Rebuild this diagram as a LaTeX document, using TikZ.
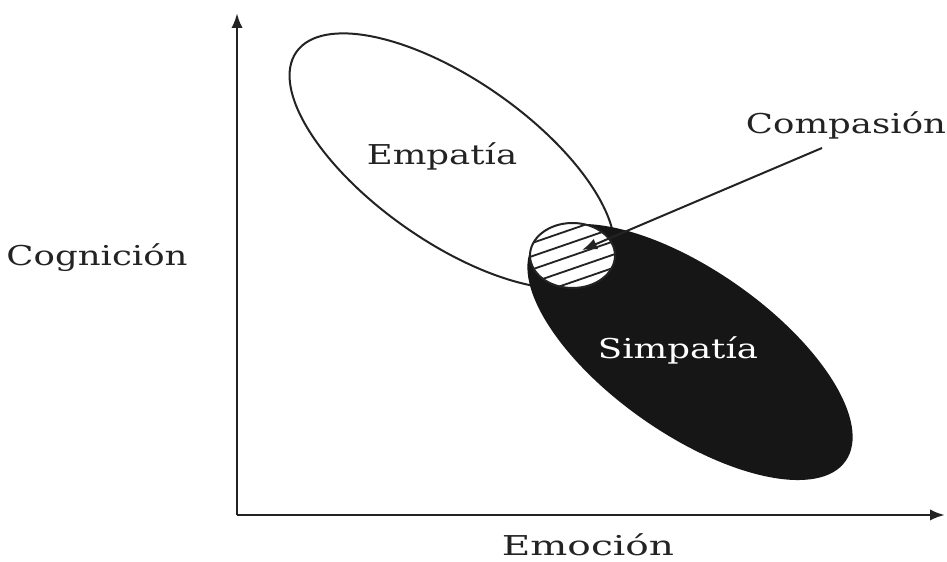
\documentclass[tikz,border=0pt]{standalone}
\usepackage{fontspec}
\setmainfont{DejaVu Serif}
\usetikzlibrary{arrows.meta,calc}
\definecolor{inkgray}{RGB}{35,35,35}
\definecolor{darkfill}{RGB}{22,22,22}

\begin{document}
\begin{tikzpicture}[x=0.3pt,y=0.3pt,>={Latex[length=4.5pt,width=3.4pt]},
    every node/.style={font=\fontsize{8.2}{10}\selectfont,xscale=1.3,text=inkgray,inner sep=0pt},
    outline/.style={draw=inkgray,line width=0.6pt},
    hatch/.style={draw=inkgray,line width=0.55pt}]
    \useasboundingbox (0,0) rectangle (947,562);
    % axes
    \coordinate (o) at (237,47);
    \coordinate (ytop) at (237,549);
    \coordinate (xend) at (945,47);
    \draw[->,line width=0.8pt,draw=inkgray] (o)--(ytop);
    \draw[->,line width=0.8pt,draw=inkgray] (o)--(xend);
    % the three regions
    \coordinate (emp) at (452,401);
    \coordinate (sim) at (690,210);
    \coordinate (cmp) at (572.5,306.5);
    \draw[outline] (emp) ellipse [x radius=190,y radius=81,rotate=-35];
    \fill[darkfill] (sim) ellipse [x radius=190,y radius=82,rotate=-35];
    \fill[white] (cmp) ellipse [x radius=42.5,y radius=32.5];
    \begin{scope}
      \clip (cmp) ellipse [x radius=42.5,y radius=32.5];
      \foreach \k in {-3,...,3}
        \draw[hatch,shift={(cmp)},rotate=19] (-70,\k*12.5)--(70,\k*12.5);
    \end{scope}
    \draw[outline] (cmp) ellipse [x radius=42.5,y radius=32.5];
    % labels
    \node (cog) at (97,304) {Cognición};
    \node[xscale=1.1] (emo) at (588,17) {Emoción};
    \node (empl) at (442,406) {Empatía};
    \node[text=white] (siml) at (678,212) {Simpatía};
    \node (comp) at (846,437) {Compasión};
    \coordinate (ptr) at (822,414);
    \coordinate (tip) at (582,312);
    \draw[->,line width=0.6pt,draw=inkgray] (ptr)--(tip);
\end{tikzpicture}
\end{document}
